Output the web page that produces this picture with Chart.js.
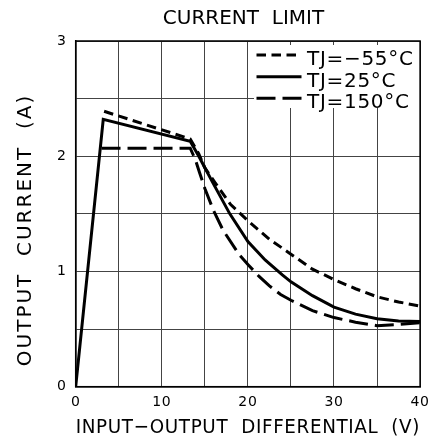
<!DOCTYPE html>
<html>
<head>
<meta charset="utf-8">
<script src="https://cdn.jsdelivr.net/npm/chart.js@4.4.1/dist/chart.umd.min.js"></script>
<style>
  html, body { margin: 0; padding: 0; background: #fff; }
  #wrap { width: 436px; height: 444px; position: relative; }
</style>
</head>
<body>
<div id="wrap"><canvas id="chart"></canvas></div>
<script>
// Current limit vs input-output differential, three junction temperatures
const seriesLabels = ['TJ=\u221255\u00b0C', 'TJ=25\u00b0C', 'TJ=150\u00b0C'];

// TJ = -55 C (short dash)
const vCold = [3.3, 13.3, 14.3, 15, 16.2, 18, 20, 22.5, 25, 27.5, 30, 32.5, 35, 37.5, 40];
const iCold = [2.39, 2.15, 2.02, 1.9, 1.77, 1.58, 1.44, 1.28, 1.15, 1.02, 0.93, 0.85, 0.78, 0.735, 0.70];

// TJ = 25 C (solid)
const vRoom = [0, 3.2, 13.3, 14.3, 15, 16, 17.9, 20, 22, 24, 25, 27.5, 30, 32.5, 35, 37.5, 40];
const iRoom = [0, 2.32, 2.13, 2.0, 1.9, 1.76, 1.5, 1.26, 1.10, 0.97, 0.91, 0.79, 0.69, 0.63, 0.59, 0.57, 0.565];

// TJ = 150 C (long dash)
const vHot = [3.0, 13.3, 13.9, 14.4, 15, 16, 17.1, 19, 20, 21.3, 22.5, 23.8, 25, 27.5, 30, 32.5, 35, 37.5, 40];
const iHot = [2.07, 2.07, 1.97, 1.855, 1.72, 1.53, 1.36, 1.145, 1.06, 0.957, 0.875, 0.80, 0.75, 0.66, 0.60, 0.56, 0.53, 0.54, 0.555];

// labelled ticks (grid runs every 5 V / 0.5 A)
const xTicks = [0, 10, 20, 30, 40];
const yTicks = [0, 1, 2, 3];

const ink = '#000';
const gridInk = '#444';
const face = "'DejaVu Sans', sans-serif";
const dashes = [[9.5, 5.5], [], [19, 7]];

function makeSet(label, xs, ys, dash) {
    return {
        label: label,
        data: xs.map((x, i) => ({ x: x, y: ys[i] })),
        showLine: true,
        borderColor: ink,
        backgroundColor: ink,
        borderWidth: 3,
        borderDash: dash,
        pointRadius: 0,
        tension: 0,
        fill: false
    };
}

// frame, title, y label and the boxed legend inside the plot
const decorPlugin = {
    id: 'decor',
    beforeDraw(chart) {
        // the drawing font is spaced out a little
        chart.ctx.letterSpacing = '0.7px';
    },
    beforeDatasetsDraw(chart) {
        const { ctx, chartArea: a } = chart;
        ctx.save();

        // legend box hides the grid behind it
        ctx.fillStyle = '#fff';
        ctx.fillRect(254, 45, 166, 63);

        ctx.strokeStyle = ink;
        ctx.lineWidth = 1.5;
        ctx.strokeRect(a.left, a.top, a.right - a.left, a.bottom - a.top);

        const rows = [55, 76.7, 98.3];
        const ends = [296.5, 301.5, 301.5];
        chart.data.datasets.forEach((ds, i) => {
            ctx.beginPath();
            ctx.setLineDash(ds.borderDash || []);
            ctx.lineWidth = 3;
            ctx.moveTo(256.5, rows[i]);
            ctx.lineTo(ends[i], rows[i]);
            ctx.stroke();
            ctx.setLineDash([]);
            ctx.fillStyle = ink;
            ctx.font = '20px ' + face;
            ctx.textAlign = 'left';
            ctx.textBaseline = 'alphabetic';
            ctx.fillText(ds.label, 307, rows[i] + 10);
        });
        ctx.restore();
    },
    afterDraw(chart) {
        const ctx = chart.ctx;
        ctx.save();
        ctx.fillStyle = ink;
        ctx.font = '20px ' + face;
        ctx.textAlign = 'center';
        ctx.textBaseline = 'alphabetic';
        ctx.letterSpacing = '0px';
        ctx.fillText('CURRENT  LIMIT', 243.5, 24);

        ctx.letterSpacing = '2px';
        ctx.translate(30.5, 230);
        ctx.rotate(-Math.PI / 2);
        ctx.fillText('OUTPUT  CURRENT  (A)', 0, 0);
        ctx.restore();
    }
};

new Chart(document.getElementById('chart'), {
    type: 'scatter',
    data: {
        datasets: [
            makeSet(seriesLabels[0], vCold, iCold, dashes[0]),
            makeSet(seriesLabels[1], vRoom, iRoom, dashes[1]),
            makeSet(seriesLabels[2], vHot, iHot, dashes[2])
        ]
    },
    options: {
        responsive: true,
        maintainAspectRatio: false,
        animation: false,
        layout: { padding: { left: 0, right: 11, top: 41, bottom: 0 } },
        plugins: {
            legend: { display: false },
            title: { display: false },
            tooltip: { enabled: false }
        },
        scales: {
            x: {
                type: 'linear',
                min: 0,
                max: 40,
                afterFit: (scale) => { scale.height = 57.3; },
                ticks: {
                    stepSize: 5,
                    padding: 7,
                    color: ink,
                    font: { family: face, size: 14 },
                    maxRotation: 0,
                    callback: (v) => xTicks.includes(v) ? String(v) : ''
                },
                grid: { color: gridInk, lineWidth: 1, drawTicks: false },
                border: { display: true, color: ink, width: 1.5 },
                title: {
                    display: true,
                    text: 'INPUT\u2212OUTPUT  DIFFERENTIAL  (V)',
                    color: ink,
                    font: { family: face, size: 20 },
                    padding: { top: 0, bottom: 4 }
                }
            },
            y: {
                min: 0,
                max: 3,
                afterFit: (scale) => { scale.width = 75.7; },
                ticks: {
                    stepSize: 0.5,
                    padding: 9,
                    color: ink,
                    font: { family: face, size: 14 },
                    callback: (v) => yTicks.includes(v) ? String(v) : ''
                },
                grid: { color: gridInk, lineWidth: 1, drawTicks: false },
                border: { display: true, color: ink, width: 1.5 }
            }
        }
    },
    plugins: [decorPlugin]
});
</script>
</body>
</html>
